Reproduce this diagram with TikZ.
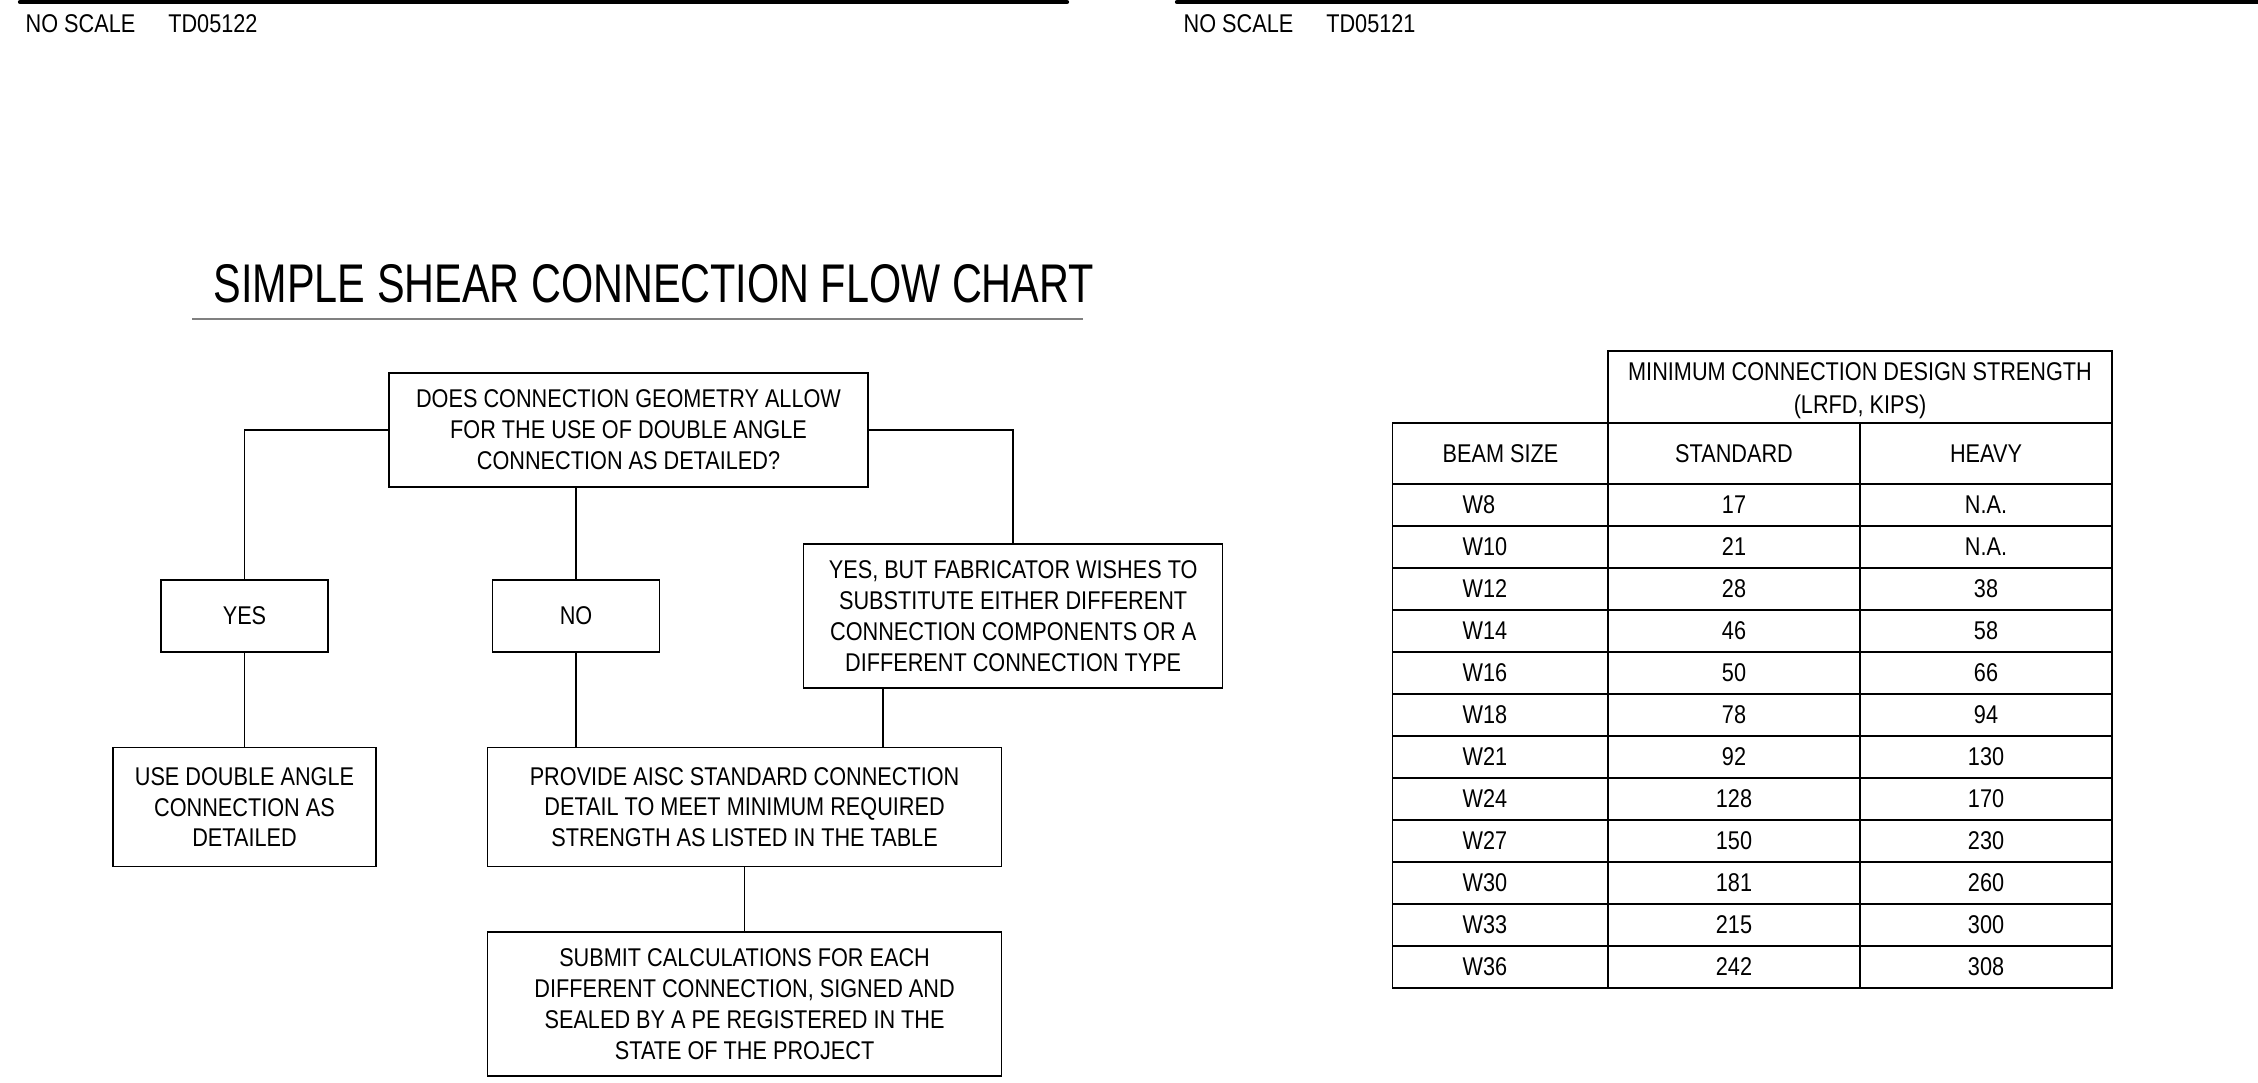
\documentclass[tikz,border=0pt]{standalone}
\usepackage{fontspec}
\setmainfont{Liberation Sans}[FakeStretch=0.845]
\newfontfamily\titlefont{Liberation Sans}[FakeStretch=0.76]
\usepackage{tikz}
\usetikzlibrary{positioning}

\tikzset{
    box/.style={draw, line width=0.45pt, align=center, inner sep=0pt, font=\fontsize{7.3}{8.8}\selectfont},
    link/.style={line width=0.4pt},
    grid/.style={line width=0.4pt},
    cell/.style={inner sep=0pt, align=center, font=\fontsize{7.3}{8.8}\selectfont},
    sheetedge/.style={line width=1.2pt, line cap=round}
}

\begin{document}
\begin{tikzpicture}
    \useasboundingbox (0,0) rectangle (22.58,-10.82);

    % sheet edges and labels
    \draw[sheetedge] (0.20,-0.02) -- (10.67,-0.02);
    \draw[sheetedge] (11.77,-0.02) -- (22.70,-0.02);
    \node[cell, anchor=base west] (scaleL) at (0.25,-0.32) {NO SCALE\hspace{0.33cm}TD05122};
    \node[cell, anchor=base west] (scaleR) at (11.83,-0.32) {NO SCALE\hspace{0.33cm}TD05121};

    % title
    \node[anchor=base west, inner sep=0pt, font=\titlefont\fontsize{15.5}{18}\selectfont] (title) at (2.13,-3.02) {SIMPLE SHEAR CONNECTION FLOW CHART};
    \draw[gray, line width=0.4pt] (1.92,-3.19) -- (10.83,-3.19);

    % flow chart
    \node[box, minimum width=4.79cm, minimum height=1.14cm] (geom) at (6.285,-4.30) {DOES CONNECTION GEOMETRY ALLOW\\FOR THE USE OF DOUBLE ANGLE\\CONNECTION AS DETAILED?};
    \node[box, minimum width=1.67cm, minimum height=0.72cm] (yes) at (2.445,-6.16) {YES};
    \node[box, minimum width=1.67cm, minimum height=0.72cm, right=1.63cm of yes] (no) {NO};
    \node[box, minimum width=4.19cm, minimum height=1.44cm, right=1.425cm of no] (yesbut) {YES, BUT FABRICATOR WISHES TO\\SUBSTITUTE EITHER DIFFERENT\\CONNECTION COMPONENTS OR A\\DIFFERENT CONNECTION TYPE};
    \node[box, minimum width=2.63cm, minimum height=1.19cm, below=0.94cm of yes] (usedbl) {USE DOUBLE ANGLE\\CONNECTION AS\\DETAILED};
    \node[box, minimum width=5.14cm, minimum height=1.19cm, right=1.10cm of usedbl] (aisc) {PROVIDE AISC STANDARD CONNECTION\\DETAIL TO MEET MINIMUM REQUIRED\\STRENGTH AS LISTED IN THE TABLE};
    \node[box, minimum width=5.14cm, minimum height=1.44cm, below=0.64cm of aisc] (submit) {SUBMIT CALCULATIONS FOR EACH\\DIFFERENT CONNECTION, SIGNED AND\\SEALED BY A PE REGISTERED IN THE\\STATE OF THE PROJECT};

    \draw[link] (geom.west) -| (yes.north);
    \draw[link] (geom.east) -| (yesbut.north);
    \draw[link] (geom.south -| no.north) -- (no.north);
    \draw[link] (yes) -- (usedbl);
    \draw[link] (no.south) -- (no.south |- aisc.north);
    \draw[link] ([xshift=-1.30cm]yesbut.south) -- ([xshift=-1.30cm]yesbut.south |- aisc.north);
    \draw[link] (aisc) -- (submit);

    % strength table
    \draw[grid] (16.08,-3.51) rectangle (21.12,-4.23);
    \draw[grid] (13.925,-4.23) rectangle (21.12,-9.88);
    \draw[grid] (16.08,-4.23) -- (16.08,-9.88);
    \draw[grid] (18.60,-4.23) -- (18.60,-9.88);
    \foreach \k in {0,...,11}
        \draw[grid] (13.925,{-4.84-0.42*\k}) -- (21.12,{-4.84-0.42*\k});

    \node[cell, font=\fontsize{7.3}{9.3}\selectfont] (strength) at (18.60,-3.91) {MINIMUM CONNECTION DESIGN STRENGTH\\(LRFD, KIPS)};
    \node[cell] (beamsize) at (15.005,-4.535) {BEAM SIZE};
    \node[cell] (standard) at (17.34,-4.535) {STANDARD};
    \node[cell] (heavy) at (19.86,-4.535) {HEAVY};

    \foreach \w/\s/\h [count=\i] in {8/17/N.A., 10/21/N.A., 12/28/38, 14/46/58, 16/50/66, 18/78/94, 21/92/130, 24/128/170, 27/150/230, 30/181/260, 33/215/300, 36/242/308} {
        \node[cell, anchor=west] (size\i) at (14.62,{-4.63-0.42*\i}) {W\w};
        \node[cell] (std\i) at (17.34,{-4.63-0.42*\i}) {\s};
        \node[cell] (hvy\i) at (19.86,{-4.63-0.42*\i}) {\h};
    }
\end{tikzpicture}
\end{document}
